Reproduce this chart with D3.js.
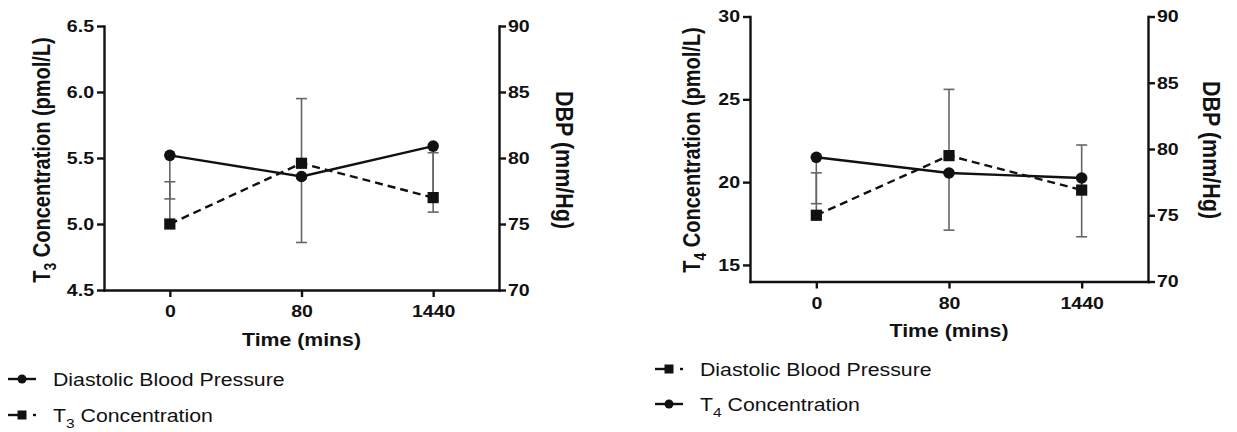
<!DOCTYPE html>
<html>
<head>
<meta charset="utf-8">
<script src="https://cdn.jsdelivr.net/npm/d3@7"></script>
<style>
  html, body { margin: 0; padding: 0; background: #fff; }
  svg { display: block; font-family: "Liberation Sans", Arial, Helvetica, sans-serif; }
  .axis text { font-weight: bold; font-size: 17px; fill: #111; }
  .axis path, .axis line { stroke: #111; stroke-width: 2.4px; }
  .title { font-weight: bold; fill: #111; }
  .legend text { font-size: 18.5px; fill: #111; }
</style>
</head>
<body>
<svg id="chart" width="1237" height="432"></svg>
<script>
// Time points (categorical x axis)
const timeLabels = ["0", "80", "1440"];

// Panel A: T3 concentration (pmol/L) with diastolic blood pressure (mm/Hg)
const t3Mean = [5.00, 5.46, 5.20];
const t3Err  = [0.32, 0.49, 0.34];
const dbpMeanA = [80.2, 78.6, 80.9];
const dbpErrA  = [3.3, 5.0, 5.0];

// Panel B: T4 concentration (pmol/L) with diastolic blood pressure (mm/Hg)
const t4Mean = [21.5, 20.55, 20.25];
const t4Err  = [2.8, 3.45, 3.55];
const dbpMeanB = [75.0, 79.5, 76.9];
const dbpErrB  = [3.2, 5.0, 3.4];

// Axis ticks
const t3Ticks  = [4.5, 5.0, 5.5, 6.0, 6.5];
const t4Ticks  = [15, 20, 25, 30];
const dbpTicks = [70, 75, 80, 85, 90];

// Typography is set slightly wide
const SX = 1.15;

const svg = d3.select("#chart");

// Widen axis labels horizontally while keeping their anchor position
function widenTicks(axisG) {
  axisG.selectAll("text").each(function () {
    const t = d3.select(this);
    const x0 = +t.attr("x") || 0;
    t.attr("x", x0 / SX).attr("transform", `scale(${SX},1)`);
  });
}

function drawPanel(cfg) {
  const g = svg.append("g");
  const x = d3.scalePoint().domain(timeLabels).range([cfg.x0, cfg.x1]).padding(0.5);
  const yL = d3.scaleLinear().domain(cfg.leftDomain).range([cfg.yBottom, cfg.yTop]);
  const yR = d3.scaleLinear().domain(cfg.rightDomain).range([cfg.yBottom, cfg.yTop]);

  // Axes
  const ax = g.append("g").attr("class", "axis")
    .attr("transform", `translate(0,${cfg.yBottom})`)
    .call(d3.axisBottom(x).tickSize(7).tickSizeOuter(0).tickPadding(8));
  const al = g.append("g").attr("class", "axis")
    .attr("transform", `translate(${cfg.x0},0)`)
    .call(d3.axisLeft(yL).tickValues(cfg.leftTicks).tickFormat(cfg.leftFormat)
      .tickSize(7).tickSizeOuter(0).tickPadding(3));
  const ar = g.append("g").attr("class", "axis")
    .attr("transform", `translate(${cfg.x1},0)`)
    .call(d3.axisRight(yR).tickValues(dbpTicks).tickFormat(d3.format("d"))
      .tickSize(7).tickSizeOuter(0).tickPadding(2));
  [ax, al, ar].forEach(widenTicks);
  g.selectAll(".axis .domain").attr("stroke-linecap", "square");

  // Axis titles
  const lt = g.append("text").attr("class", "title")
    .attr("transform", `translate(${cfg.leftTitleX},${cfg.leftTitleY}) scale(${SX},1) rotate(-90)`)
    .attr("text-anchor", "middle").style("font-size", "20px");
  lt.append("tspan").text("T");
  lt.append("tspan").text(cfg.sub).attr("dy", 5).style("font-size", "14px");
  lt.append("tspan").text(" Concentration (pmol/L)").attr("dy", -5);

  g.append("text").attr("class", "title")
    .attr("transform", `translate(${cfg.rightTitleX},${cfg.rightTitleY}) scale(${SX},1) rotate(90)`)
    .attr("text-anchor", "middle").style("font-size", "21.5px")
    .text("DBP (mm/Hg)");

  g.append("text").attr("class", "title")
    .attr("transform", `translate(${(cfg.x0 + cfg.x1) / 2},${cfg.timeY}) scale(${SX},1)`)
    .attr("text-anchor", "middle").style("font-size", "18.5px")
    .text("Time (mins)");

  const series = cfg.series.map(s => ({ ...s, y: s.axis === "left" ? yL : yR }));

  // Error bars: square series extend upward, circle series downward
  series.forEach(s => {
    const eb = g.append("g").attr("stroke", "#666").attr("stroke-width", 1.6);
    s.mean.forEach((m, i) => {
      const cx = x(timeLabels[i]);
      const end = m + s.dir * s.err[i];
      eb.append("line").attr("x1", cx).attr("x2", cx)
        .attr("y1", s.y(m)).attr("y2", s.y(end));
      eb.append("line").attr("x1", cx - 5.5).attr("x2", cx + 5.5)
        .attr("y1", s.y(end)).attr("y2", s.y(end));
    });
  });

  // Lines and markers
  series.forEach(s => {
    const line = d3.line().x((d, i) => x(timeLabels[i])).y(d => s.y(d));
    g.append("path").datum(s.mean)
      .attr("d", line).attr("fill", "none").attr("stroke", "#111")
      .attr("stroke-width", 2.4)
      .attr("stroke-dasharray", s.shape === "square" ? "8,5" : null);
    s.mean.forEach((m, i) => {
      const cx = x(timeLabels[i]);
      if (s.shape === "circle") {
        g.append("circle").attr("cx", cx).attr("cy", s.y(m)).attr("r", 5.8).attr("fill", "#111");
      } else {
        g.append("rect").attr("x", cx - 5.6).attr("y", s.y(m) - 5.6)
          .attr("width", 11.2).attr("height", 11.2).attr("fill", "#111");
      }
    });
  });

  // Legend
  const lg = g.append("g").attr("class", "legend");
  cfg.legend.forEach(item => {
    const row = lg.append("g");
    const lx0 = item.x, lx1 = item.x + 28, ly = item.y;
    if (item.shape === "circle") {
      row.append("line").attr("x1", lx0).attr("x2", lx1).attr("y1", ly).attr("y2", ly)
        .attr("stroke", "#111").attr("stroke-width", 2.4);
      row.append("circle").attr("cx", (lx0 + lx1) / 2).attr("cy", ly).attr("r", 4.5).attr("fill", "#111");
    } else {
      row.append("line").attr("x1", lx0).attr("x2", lx0 + 10).attr("y1", ly).attr("y2", ly)
        .attr("stroke", "#111").attr("stroke-width", 2.4);
      row.append("rect").attr("x", (lx0 + lx1) / 2 - 4.5).attr("y", ly - 4.5)
        .attr("width", 9).attr("height", 9).attr("fill", "#111");
      row.append("line").attr("x1", lx1 - 3).attr("x2", lx1).attr("y1", ly).attr("y2", ly)
        .attr("stroke", "#111").attr("stroke-width", 2.4);
    }
    const t = row.append("text")
      .attr("transform", `translate(${item.x + 45},${ly + 7}) scale(${SX},1)`);
    item.label.forEach(part => {
      const ts = t.append("tspan").text(part.text);
      if (part.sub) ts.attr("dy", 6).style("font-size", "13.5px");
      if (part.after) ts.attr("dy", -6);
    });
  });
}

drawPanel({
  x0: 104, x1: 499, yTop: 26, yBottom: 290,
  leftDomain: [4.5, 6.5], leftTicks: t3Ticks, leftFormat: d3.format(".1f"),
  rightDomain: [70, 90],
  sub: "3",
  leftTitleX: 50, leftTitleY: 160, rightTitleX: 556, rightTitleY: 160, timeY: 346,
  series: [
    { mean: dbpMeanA, err: dbpErrA, axis: "right", shape: "circle", dir: -1 },
    { mean: t3Mean, err: t3Err, axis: "left", shape: "square", dir: 1 }
  ],
  legend: [
    { x: 8, y: 379, shape: "circle", label: [{ text: "Diastolic Blood Pressure" }] },
    { x: 8, y: 415, shape: "square", label: [{ text: "T" }, { text: "3", sub: true }, { text: " Concentration", after: true }] }
  ]
});

drawPanel({
  x0: 750, x1: 1148, yTop: 16.5, yBottom: 281.5,
  leftDomain: [14, 30], leftTicks: t4Ticks, leftFormat: d3.format("d"),
  rightDomain: [70, 90],
  sub: "4",
  leftTitleX: 700, leftTitleY: 150, rightTitleX: 1203, rightTitleY: 150, timeY: 337,
  series: [
    { mean: t4Mean, err: t4Err, axis: "left", shape: "circle", dir: -1 },
    { mean: dbpMeanB, err: dbpErrB, axis: "right", shape: "square", dir: 1 }
  ],
  legend: [
    { x: 655, y: 369, shape: "square", label: [{ text: "Diastolic Blood Pressure" }] },
    { x: 655, y: 404, shape: "circle", label: [{ text: "T" }, { text: "4", sub: true }, { text: " Concentration", after: true }] }
  ]
});
</script>
</body>
</html>
